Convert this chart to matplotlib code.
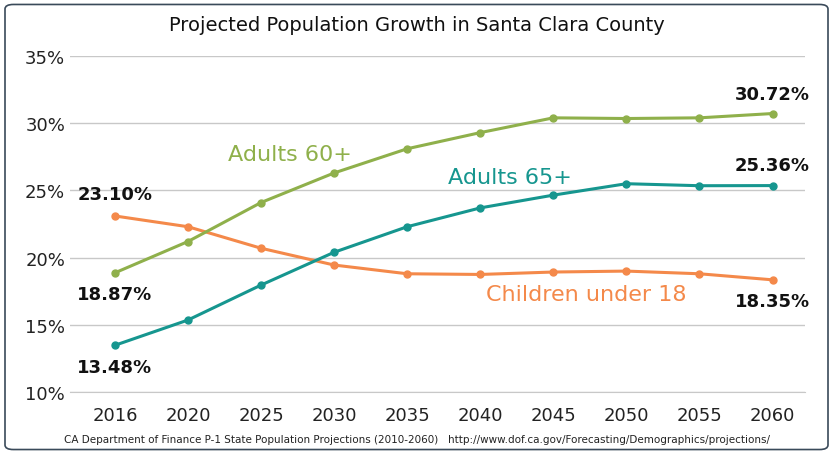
import matplotlib.pyplot as plt
from matplotlib.patches import FancyBboxPatch

years = ['2016', '2020', '2025', '2030', '2035', '2040', '2045', '2050', '2055', '2060']
adults60 = [18.87, 21.2, 24.1, 26.3, 28.1, 29.3, 30.4, 30.35, 30.4, 30.72]
adults65 = [13.48, 15.36, 17.96, 20.4, 22.3, 23.7, 24.65, 25.5, 25.35, 25.36]
children = [23.10, 22.3, 20.7, 19.45, 18.8, 18.75, 18.93, 19.0, 18.8, 18.35]

c60, c65, cch = '#8fb04b', '#16968f', '#f4894a'

fig = plt.figure(figsize=(8.33, 4.56), dpi=100)
fig.patches.append(FancyBboxPatch((0.006, 0.012), 0.988, 0.976, boxstyle='round,pad=0,rounding_size=0.01',
                                  transform=fig.transFigure, fill=False, edgecolor='#3a4a5a', linewidth=1.2))
ax = fig.add_axes([0.084, 0.138, 0.882, 0.737])
x = range(len(years))
ax.plot(x, children, color=cch, lw=2.2, marker='o', ms=5)
ax.plot(x, adults65, color=c65, lw=2.2, marker='o', ms=5)
ax.plot(x, adults60, color=c60, lw=2.2, marker='o', ms=5)

ax.set_xlim(-0.615, 9.44)
ax.set_ylim(10, 35)
ax.set_yticks(range(10, 36, 5))
ax.set_yticklabels([f'{v}%' for v in range(10, 36, 5)])
ax.set_xticks(list(x))
ax.set_xticklabels(years)
ax.tick_params(length=0, labelsize=13, colors='#222222')
ax.tick_params(axis='x', pad=10)
ax.grid(axis='y', color='#c8c8c8', lw=1)
ax.set_axisbelow(True)
for s in ['top', 'right', 'left']:
    ax.spines[s].set_visible(False)
ax.spines['bottom'].set_color('#c8c8c8')

lbl = dict(fontsize=13, color='#111111', ha='center', va='center', fontweight='semibold')
ax.text(0, 24.7, f'{children[0]:.2f}%', **lbl)
ax.text(0, 17.3, f'{adults60[0]:.2f}%', **lbl)
ax.text(0, 11.9, f'{adults65[0]:.2f}%', **lbl)
ax.text(9, 32.2, f'{adults60[-1]:.2f}%', **lbl)
ax.text(9, 26.9, f'{adults65[-1]:.2f}%', **lbl)
ax.text(9, 16.8, f'{children[-1]:.2f}%', **lbl)

ax.text(2.4, 27.7, 'Adults 60+', fontsize=16, color=c60, ha='center', va='center')
ax.text(5.4, 26.0, 'Adults 65+', fontsize=16, color=c65, ha='center', va='center')
ax.text(6.45, 17.3, 'Children under 18', fontsize=16, color=cch, ha='center', va='center')

fig.text(0.5, 0.945, 'Projected Population Growth in Santa Clara County', fontsize=14,
         ha='center', va='center', color='#111111')
fig.text(0.5, 0.035, 'CA Department of Finance P-1 State Population Projections (2010-2060)   '
         'http://www.dof.ca.gov/Forecasting/Demographics/projections/', fontsize=7.5,
         ha='center', va='center', color='#222222')

fig.savefig('out.png', dpi=100)
